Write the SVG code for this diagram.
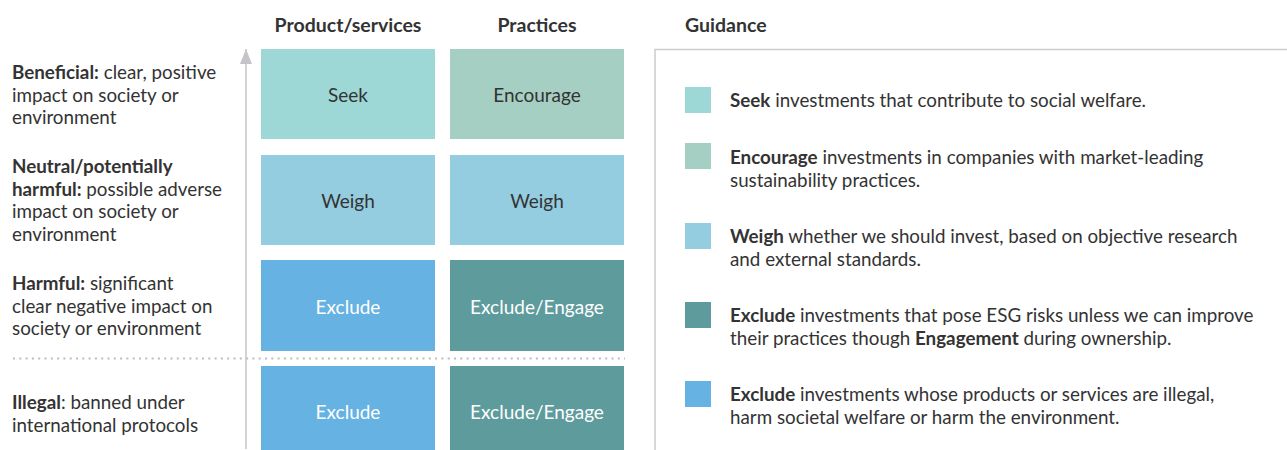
<svg xmlns="http://www.w3.org/2000/svg" width="1287" height="450" viewBox="0 0 1287 450">
<style>
text{font-family:Lato,"Open Sans","Liberation Sans",sans-serif;fill:#333;}
.hd{font-size:19.5px;font-weight:bold;}
.lb{font-size:18.8px;}
.b{font-weight:bold;}
.bx{font-size:19px;text-anchor:middle;}
.w{fill:#fff;}
.gd{font-size:18.8px;}
.seek{fill:#9dd7d6;}
.enc{fill:#a6cfc4;}
.weigh{fill:#94cce0;}
.exc{fill:#66b2e2;}
.eng{fill:#5e9b9c;}
</style>
<defs>
<marker id="arr" markerWidth="15" markerHeight="12" refX="15" refY="6" orient="auto" markerUnits="userSpaceOnUse">
<path d="M0,0 L15,6 L0,12 Z" fill="#c4c4c9"/>
</marker>
</defs>
<g id="headers">
<text class="hd" x="348" y="32" text-anchor="middle">Product/services</text>
<text class="hd" x="537" y="32" text-anchor="middle">Practices</text>
<text class="hd" x="685" y="32">Guidance</text>
</g>
<g id="connectors">
<line x1="246" y1="449" x2="246" y2="49" stroke="#c4c4c9" stroke-width="1.5" marker-end="url(#arr)"/>
<line x1="13" y1="358.5" x2="625" y2="358.5" stroke="#bdbdbd" stroke-width="2" stroke-dasharray="2 4.3"/>
</g>
<g id="row-labels">
<text class="lb" x="12"><tspan x="12" y="79"><tspan class="b">Beneficial:</tspan> clear, positive</tspan><tspan x="12" y="102">impact on society or</tspan><tspan x="12" y="124">environment</tspan></text>
<text class="lb" x="12"><tspan x="12" y="173" class="b">Neutral/potentially</tspan><tspan x="12" y="196"><tspan class="b">harmful:</tspan> possible adverse</tspan><tspan x="12" y="218">impact on society or</tspan><tspan x="12" y="241">environment</tspan></text>
<text class="lb" x="12"><tspan x="12" y="290"><tspan class="b">Harmful:</tspan> significant</tspan><tspan x="12" y="313">clear negative impact on</tspan><tspan x="12" y="335">society or environment</tspan></text>
<text class="lb" x="12"><tspan x="12" y="409"><tspan class="b">Illegal</tspan>: banned under</tspan><tspan x="12" y="432">international protocols</tspan></text>
</g>
<g id="seek"><rect class="seek" x="261" y="49" width="174" height="90"/><text class="bx" x="348" y="102">Seek</text></g>
<g id="encourage"><rect class="enc" x="450" y="49" width="174" height="90"/><text class="bx" x="537" y="102">Encourage</text></g>
<g id="weigh-1"><rect class="weigh" x="261" y="155" width="174" height="90"/><text class="bx" x="348" y="208">Weigh</text></g>
<g id="weigh-2"><rect class="weigh" x="450" y="155" width="174" height="90"/><text class="bx" x="537" y="208">Weigh</text></g>
<g id="exclude-1"><rect class="exc" x="261" y="260" width="174" height="91"/><text class="bx w" x="348" y="314">Exclude</text></g>
<g id="exclude-engage-1"><rect class="eng" x="450" y="260" width="174" height="91"/><text class="bx w" x="537" y="314">Exclude/Engage</text></g>
<g id="exclude-2"><rect class="exc" x="261" y="366" width="174" height="84"/><text class="bx w" x="348" y="419">Exclude</text></g>
<g id="exclude-engage-2"><rect class="eng" x="450" y="366" width="174" height="84"/><text class="bx w" x="537" y="419">Exclude/Engage</text></g>
<g id="guidance">
<path d="M655,450 V49.5 H1287" fill="none" stroke="#cccccc" stroke-width="1.5"/>
<rect class="seek" x="685" y="87" width="26" height="26"/>
<text class="gd"><tspan x="730" y="107"><tspan class="b">Seek</tspan> investments that contribute to social welfare.</tspan></text>
<rect class="enc" x="685" y="143" width="26" height="26"/>
<text class="gd"><tspan x="730" y="164"><tspan class="b">Encourage</tspan> investments in companies with market-leading</tspan><tspan x="730" y="187">sustainability practices.</tspan></text>
<rect class="weigh" x="685" y="223" width="26" height="26"/>
<text class="gd"><tspan x="730" y="243"><tspan class="b">Weigh</tspan> whether we should invest, based on objective research</tspan><tspan x="730" y="266">and external standards.</tspan></text>
<rect class="eng" x="685" y="302" width="26" height="26"/>
<text class="gd"><tspan x="730" y="322"><tspan class="b">Exclude</tspan> investments that pose ESG risks unless we can improve</tspan><tspan x="730" y="345">their practices though <tspan class="b">Engagement</tspan> during ownership.</tspan></text>
<rect class="exc" x="685" y="381" width="26" height="26"/>
<text class="gd"><tspan x="730" y="401"><tspan class="b">Exclude</tspan> investments whose products or services are illegal,</tspan><tspan x="730" y="424">harm societal welfare or harm the environment.</tspan></text>
</g>
</svg>
